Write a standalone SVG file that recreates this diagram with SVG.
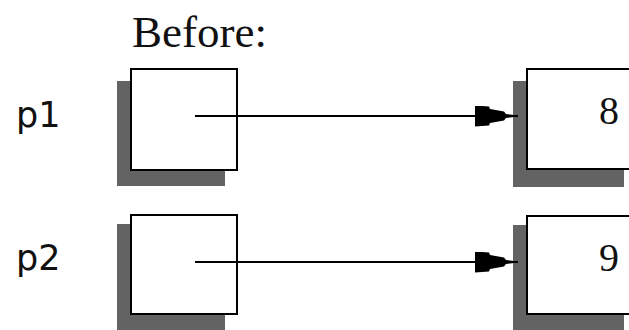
<svg xmlns="http://www.w3.org/2000/svg" width="629" height="330" viewBox="0 0 629 330">
  <style>
    .shadow { fill: #636363; stroke: none; }
    .box { fill: #ffffff; stroke: #000000; stroke-width: 2; }
    .title { font-family: "Liberation Serif", "Times New Roman", serif; font-size: 45px; fill: #111; }
    .var { font-family: "DejaVu Sans", "Liberation Sans", sans-serif; font-size: 35px; fill: #111; }
    .val { font-family: "Liberation Serif", "Times New Roman", serif; font-size: 40px; fill: #111; text-anchor: middle; }
    .conn { stroke: #000; stroke-width: 2; fill: none; }
  </style>
  <defs>
    <marker id="arrow" markerUnits="userSpaceOnUse" viewBox="0 0 44 21" markerWidth="44" markerHeight="21" refX="43" refY="10.5" orient="auto">
      <path d="M0,0 L14,1 L15,3.5 L29,6 L31,8.5 L43,10 L43,11 L31,12.5 L29,15 L15,17.5 L14,20 L0,21 Z" fill="#000"/>
    </marker>
  </defs>
  <rect width="629" height="330" fill="#ffffff"/>

  <g id="title">
    <text class="title" x="132" y="47">Before:</text>
  </g>

  <g id="p1">
    <text class="var" x="16" y="127">p1</text>
    <rect class="shadow" x="117" y="81" width="108" height="105"/>
    <rect class="box" x="131" y="69" width="106" height="101"/>
  </g>

  <g id="v8">
    <rect class="shadow" x="513" y="81" width="111" height="106"/>
    <rect class="box" x="527" y="69" width="112" height="100"/>
    <text class="val" x="609" y="124">8</text>
  </g>

  <g id="p2">
    <text class="var" x="16" y="270">p2</text>
    <rect class="shadow" x="117" y="224" width="108" height="110"/>
    <rect class="box" x="131" y="215" width="106" height="99"/>
  </g>

  <g id="v9">
    <rect class="shadow" x="513" y="225" width="111" height="110"/>
    <rect class="box" x="527" y="216" width="112" height="98"/>
    <text class="val" x="609" y="271">9</text>
  </g>

  <g id="connectors">
    <line class="conn" x1="195" y1="116" x2="518" y2="116" marker-end="url(#arrow)"/>
    <line class="conn" x1="195" y1="262" x2="518" y2="262" marker-end="url(#arrow)"/>
  </g>
</svg>
